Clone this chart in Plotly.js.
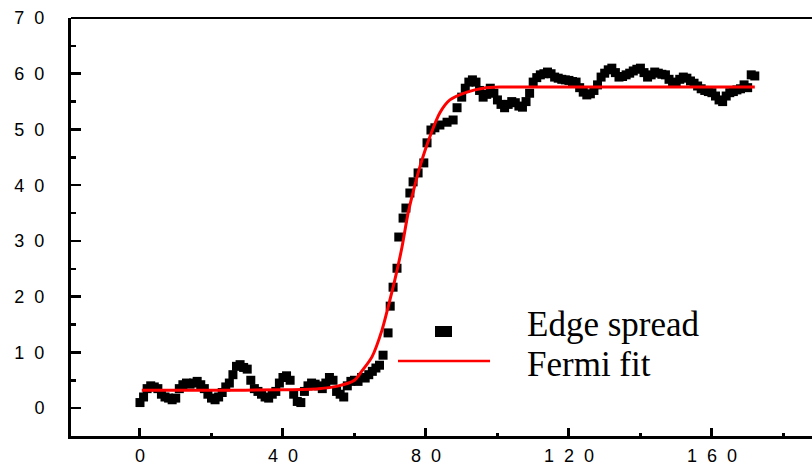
<!DOCTYPE html>
<html>
<head>
<meta charset="utf-8">
<script src="https://cdn.plot.ly/plotly-3.0.1.min.js"></script>
<style>html,body{margin:0;padding:0;background:#fff;}#chart{width:812px;height:468px;}</style>
</head>
<body>
<div id="chart"></div>
<script>
// Measured data: "Edge spread"
const edgeX = [0,1,2,3,4,5,6,7,8,9,10,11,12,13,14,15,16,17,18,19,20,21,22,23,24,25,26,27,28,29,30,31,32,33,34,35,36,37,38,39,40,41,42,43,44,45,46,47,48,49,50,51,52,53,54,55,56,57,58,59,60,61,62,63,64,65,66,67,68,69.4,70,70.8,71.9,72.4,73.6,74.4,75.5,76.4,77.8,79.4,80.3,81.4,82.5,83.9,85.9,87.6,88.7,90,91,92,93,94,95,96,97,98,99,100,101,102,103,104,105,106,107,108,109,110,111,112,113,114,115,116,117,118,119,120,121,122,123,124,125,126,127,128,129,130,131,132,133,134,135,136,137,138,139,140,141,142,143,144,145,146,147,148,149,150,151,152,153,154,155,156,157,158,159,160,161,162,163,164,165,166,167,168,169,170,171,172];
const edgeY = [1.0,2.0,3.5,4.0,3.8,3.5,2.5,2.0,1.8,1.5,1.8,3.5,4.2,4.5,4.3,4.5,4.8,4.2,3.5,2.5,1.8,1.5,2.0,2.8,3.8,4.5,6.0,7.5,7.8,7.3,7.0,5.0,3.5,3.0,2.5,2.0,1.8,2.5,3.0,4.5,5.5,5.8,5.0,2.5,1.2,1.0,3.0,4.0,4.5,4.3,4.0,3.5,4.5,5.5,5.0,3.0,2.5,2.0,4.0,4.8,5.0,4.8,5.5,5.4,6.0,6.6,7.2,7.7,9.5,13.5,18.3,21.7,25.1,30.7,34.1,35.9,38.6,40.6,42.2,44.0,47.6,49.9,50.3,50.8,51.3,51.7,53.9,55.8,57.4,58.5,58.9,58.5,57.0,55.8,56.3,57.4,56.5,55.3,54.5,53.9,54.5,55.0,54.8,54.2,54.0,55.0,56.5,58.5,59.3,59.8,60.0,60.3,60.0,59.4,59.2,59.0,58.9,58.8,58.6,58.5,57.5,56.7,56.2,56.4,57.0,58.0,59.4,60.1,60.7,61.0,60.2,59.4,59.5,59.8,60.1,60.5,60.8,61.0,60.2,59.4,59.8,60.3,60.1,59.9,59.8,59.0,58.3,58.5,59.0,59.4,59.2,58.7,58.3,57.8,57.3,57.0,56.8,56.6,56.0,55.3,55.0,56.0,56.6,56.8,57.1,57.3,58.0,57.5,59.8,59.6];

// "Fermi fit" curve
const fitX = [0.5,20,40,50,55,60,62,64.9,67.7,69.4,71.3,73.3,75,76.5,78.3,81.1,83.9,86.7,91.5,96,100.7,120,150,172];
const fitY = [3.2,3.2,3.3,3.5,3.9,5.0,6.6,9.2,14.0,18.1,23.0,28.9,35.0,39.0,43.3,48.7,53.0,55.3,56.7,57.4,57.6,57.6,57.6,57.6];

// Tick labels
const S = "\u00A0\u00A0";
const xTickVals = [0,40,80,120,160];
const xTickText = ["0","4"+S+"0","8"+S+"0","1"+S+"2"+S+"0","1"+S+"6"+S+"0"];
const yTickVals = [0,10,20,30,40,50,60,70];
const yTickText = ["0","1"+S+"0","2"+S+"0","3"+S+"0","4"+S+"0","5"+S+"0","6"+S+"0","7"+S+"0"];

const legendNames = ["Edge spread","Fermi fit"];

const traces = [
  {x: edgeX, y: edgeY, type:'scatter', mode:'markers', name: legendNames[0],
   marker:{symbol:'square', size:9, color:'#000000'}, cliponaxis:false},
  {x: fitX, y: fitY, type:'scatter', mode:'lines', name: legendNames[1],
   line:{color:'#ff0000', width:3, shape:'spline', smoothing:0.8}}
];

const tickFont = {family:'"Liberation Sans", Arial, sans-serif', size:18, color:'#000'};
const legFont = {family:'"Liberation Serif", "Times New Roman", serif', size:35, color:'#000'};

const layout = {
  width:812, height:468,
  margin:{l:71, r:0, t:18, b:32, pad:0},
  paper_bgcolor:'#fff', plot_bgcolor:'#fff',
  showlegend:false,
  xaxis:{range:[-19.3,188], showgrid:false, zeroline:false,
    showline:true, linecolor:'#000', linewidth:3, mirror:false,
    tickmode:'array', tickvals:xTickVals, ticktext:xTickText,
    ticks:'inside', ticklen:8, tickwidth:3, tickcolor:'#000',
    ticklabelstandoff:1, tickfont:tickFont,
    minor:{tickmode:'linear', tick0:0, dtick:20, ticks:'inside', ticklen:3, tickwidth:3, tickcolor:'#000', showgrid:false}},
  yaxis:{range:[-5,70], showgrid:false, zeroline:false,
    showline:true, linecolor:'#000', linewidth:3, mirror:false,
    tickmode:'array', tickvals:yTickVals, ticktext:yTickText,
    ticks:'inside', ticklen:10, tickwidth:2.5, tickcolor:'#000',
    ticklabelstandoff:20, tickfont:tickFont,
    minor:{tickmode:'linear', tick0:5, dtick:10, ticks:'inside', ticklen:5, tickwidth:2.5, tickcolor:'#000', showgrid:false}},
  shapes:[
    {type:'line', xref:'paper', yref:'paper', x0:0, x1:1, y0:1, y1:1, line:{color:'#000', width:2}},
    {type:'rect', xref:'paper', yref:'paper', x0:0.4912, x1:0.5142, y0:0.2368, y1:0.2632, line:{width:0}, fillcolor:'#000'},
    {type:'line', xref:'paper', yref:'paper', x0:0.4413, x1:0.5655, y0:0.1794, y1:0.1794, line:{color:'#ff0000', width:2.5}}
  ],
  annotations:[
    {xref:'paper', yref:'paper', x:0.6127, y:0.266, xanchor:'left', yanchor:'middle', text:legendNames[0], showarrow:false, font:legFont},
    {xref:'paper', yref:'paper', x:0.6127, y:0.170, xanchor:'left', yanchor:'middle', text:legendNames[1], showarrow:false, font:legFont}
  ]
};

Plotly.newPlot('chart', traces, layout, {staticPlot:true, displayModeBar:false});
</script>
</body>
</html>
